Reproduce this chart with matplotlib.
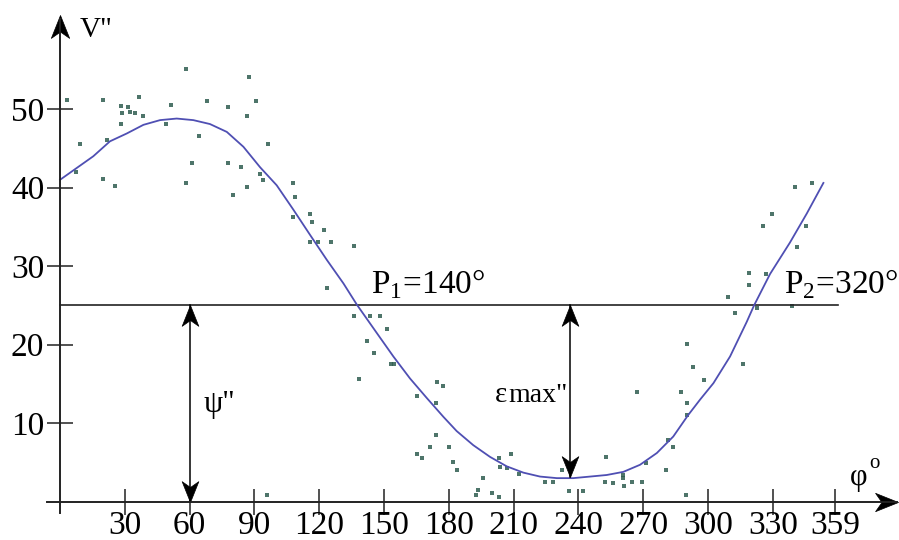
import numpy as np
import matplotlib
matplotlib.use("Agg")
import matplotlib.pyplot as plt
from matplotlib.path import Path

# Courbe ajustée V''(phi)
curve_deg = [0, 7.7, 15.4, 23.1, 30.9, 38.6, 46.3, 54.0, 61.7, 69.4, 77.2, 84.9, 92.6,
             100.3, 108.0, 115.7, 123.5, 131.2, 137.4, 146.6, 154.3, 162.0, 169.8, 177.5,
             183.6, 191.3, 199.1, 206.8, 214.5, 222.2, 230.0, 237.6, 245.4, 253.1, 260.8,
             268.5, 276.3, 283.9, 290.7, 296.3, 302.5, 310.2, 317.9, 321.3, 328.7, 337.9,
             345.7, 353.4]
curve_val = [41.0, 42.5, 44.0, 45.9, 46.9, 48.0, 48.6, 48.8, 48.6, 48.1, 47.1, 45.2, 42.6,
             40.3, 37.2, 34.0, 30.8, 27.8, 25.1, 21.5, 18.5, 15.7, 13.2, 10.8, 9.0, 7.2,
             5.7, 4.5, 3.7, 3.2, 3.0, 3.0, 3.2, 3.4, 3.8, 4.7, 6.2, 8.3, 11.0, 13.0, 15.1,
             18.5, 22.9, 25.0, 29.0, 33.0, 36.7, 40.6]

# Mesures
pts_deg = [3.1, 19.9, 36.6, 28.2, 31.5, 28.9, 32.4, 34.7, 38.4, 51.4, 58.3, 68.1, 77.8,
           87.5, 90.7, 86.6, 28.2, 49.1, 64.4, 9.3, 21.8, 96.3, 7.4, 61.1, 77.8, 83.8,
           92.6, 94.0, 19.9, 25.5, 58.3, 86.6, 107.9, 80.1, 108.8, 107.9, 115.7, 116.7,
           122.2, 115.7, 119.4, 125.5, 136.1, 123.6, 136.1, 143.5, 148.1, 151.4, 142.1,
           145.4, 153.2, 154.6, 138.4, 174.5, 177.3, 165.3, 174.1, 174.1, 171.3, 180.1,
           165.3, 167.6, 181.9, 183.8, 203.2, 208.8, 203.7, 206.9, 212.5, 195.8, 224.5,
           228.2, 232.4, 193.5, 192.6, 200.0, 203.2, 235.6, 242.1, 340.3, 348.1, 329.6,
           325.5, 345.4, 341.2, 319.0, 326.9, 319.0, 309.3, 322.7, 312.5, 338.9, 290.3,
           293.1, 316.2, 298.1, 267.1, 287.5, 290.3, 290.3, 281.5, 283.8, 252.8, 271.3,
           280.6, 260.6, 260.6, 252.3, 256.0, 264.8, 269.4, 261.1, 289.8, 95.8]
pts_val = [51.1, 51.2, 51.6, 50.4, 50.3, 49.5, 49.6, 49.5, 49.1, 50.5, 55.1, 51.0, 50.3,
           54.1, 51.0, 49.1, 48.1, 48.1, 46.6, 45.6, 46.1, 45.6, 42.0, 43.1, 43.1, 42.6,
           41.7, 41.0, 41.1, 40.2, 40.6, 40.1, 40.6, 39.0, 38.8, 36.2, 36.6, 35.6, 34.6,
           33.1, 33.1, 33.1, 32.6, 27.2, 23.7, 23.7, 23.7, 22.0, 20.5, 19.0, 17.6, 17.6,
           15.6, 15.2, 14.7, 13.5, 12.6, 8.5, 7.0, 7.0, 6.1, 5.6, 5.1, 4.0, 5.6, 6.1, 4.4,
           4.3, 3.5, 3.0, 2.5, 2.5, 4.0, 1.5, 0.9, 1.1, 0.6, 1.4, 1.4, 40.1, 40.6, 36.6,
           35.1, 35.1, 32.5, 29.1, 29.0, 27.6, 26.1, 24.7, 24.0, 24.9, 20.1, 17.2, 17.5,
           15.5, 14.0, 14.0, 12.6, 11.0, 7.9, 7.0, 5.7, 4.9, 4.0, 3.4, 3.0, 2.5, 2.4, 2.5,
           2.5, 2.0, 0.9, 0.9]

x_ticks = [30, 60, 90, 120, 150, 180, 210, 240, 270, 300, 330, 359]
x_labels = ["30", "60", "90", "120", "150", "180", "210", "240", "270", "300", "330", "359"]
y_ticks = [10, 20, 30, 40, 50]
y_labels = ["10", "20", "30", "40", "50"]

level = 25        # niveau moyen psi''
psi_at = 60
eps_at, eps_low = 236, 3.2

plt.rcParams['font.family'] = ['Liberation Serif', 'DejaVu Serif']
plt.rcParams['mathtext.fontset'] = 'custom'
plt.rcParams['mathtext.rm'] = 'Liberation Serif'

INK = '#222222'


def head(angle):
    # pointe de flèche (pointe en (0,0)), angle 0 = vers le haut
    v = np.array([[0, 0], [-0.4, -1], [0, -0.72], [0.4, -1], [0, 0]])
    a = np.deg2rad(angle)
    r = np.array([[np.cos(a), -np.sin(a)], [np.sin(a), np.cos(a)]])
    v = v @ r.T
    return Path(v, [Path.MOVETO, Path.LINETO, Path.LINETO, Path.LINETO, Path.CLOSEPOLY])


fig = plt.figure(figsize=(8.99, 5.40), dpi=100)
ax = fig.add_axes([0, 0, 1, 1])
ax.set_xlim(-27.8, 388.4)
ax.set_ylim(-4.88, 63.9)

for s in ['top', 'right']:
    ax.spines[s].set_visible(False)
ax.spines['left'].set_position(('data', 0))
ax.spines['bottom'].set_position(('data', 0))
ax.spines['left'].set_bounds(-1.5, 61.5)
ax.spines['bottom'].set_bounds(-6.2, 387.5)
for s in ['left', 'bottom']:
    ax.spines[s].set_color(INK)
    ax.spines[s].set_linewidth(1.4)

ax.set_xticks(x_ticks)
ax.set_xticklabels(x_labels)
ax.set_yticks(y_ticks)
ax.set_yticklabels(y_labels)
ax.tick_params(direction='inout', length=18.7, width=1.1, color=INK,
               labelsize=24, labelcolor='black')
ax.tick_params(axis='x', pad=-3)
ax.tick_params(axis='y', pad=2)

# flèches des axes
ax.plot([0], [62.0], marker=head(0), ms=33, color='black', mew=0.5, clip_on=False)
ax.plot([388.0], [0], marker=head(-90), ms=33, color='black', mew=0.5, clip_on=False)

# niveau 25
ax.plot([0, 360], [level, level], color=INK, lw=1.2)

# mesures et courbe
ax.scatter(pts_deg, pts_val, s=7, marker='s', color='#2f5d50', linewidths=0, alpha=0.85)
ax.plot(curve_deg, curve_val, color='#4f4fb3', lw=1.3)

# flèche psi''
ax.plot([psi_at, psi_at], [0, level], color='black', lw=1.1)
ax.plot([psi_at], [level], marker=head(0), ms=30, color='black', mew=0.5)
ax.plot([psi_at], [0], marker=head(180), ms=30, color='black', mew=0.5)

# flèche eps_max''
ax.plot([eps_at, eps_at], [eps_low, level], color='black', lw=1.1)
ax.plot([eps_at], [level], marker=head(0), ms=30, color='black', mew=0.5)
ax.plot([eps_at], [eps_low], marker=head(180), ms=30, color='black', mew=0.5)

# textes
ax.text(9.3, 60.1, 'V"', fontsize=21, va='center', ha='left')
ax.text(365.5, 3.1, 'φ', fontsize=22, va='center', ha='left')
ax.text(374.5, 4.9, 'o', fontsize=15, va='center', ha='left')
ax.text(66.3, 12.4, 'ψ"', fontsize=22, va='center', ha='left')
ax.text(201.4, 12.7, 'ε', fontsize=21, va='baseline', ha='left')
ax.text(207.5, 12.7, 'max"', fontsize=20, va='baseline', ha='left')
ax.text(143.8, 26.5, r'P$_{\mathrm{1}}$=140°', fontsize=24, va='baseline', ha='left')
ax.text(335.3, 26.5, r'P$_{\mathrm{2}}$=320°', fontsize=24, va='baseline', ha='left')

fig.savefig("out.png", dpi=100, facecolor='white')
